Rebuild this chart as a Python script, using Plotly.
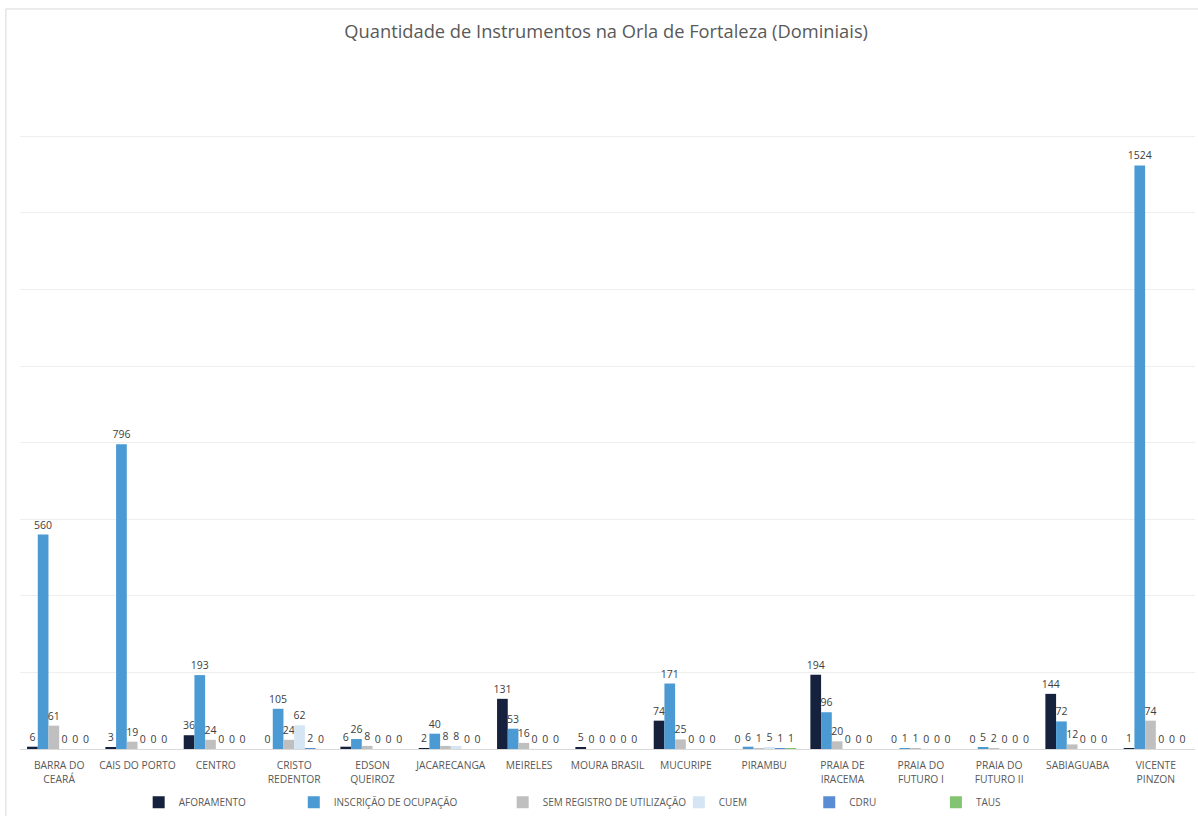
import plotly.graph_objects as go

categories = ["BARRA DO<br>CEARÁ", "CAIS DO PORTO", "CENTRO", "CRISTO<br>REDENTOR",
              "EDSON<br>QUEIROZ", "JACARECANGA", "MEIRELES", "MOURA BRASIL",
              "MUCURIPE", "PIRAMBU", "PRAIA DE<br>IRACEMA", "PRAIA DO<br>FUTURO I",
              "PRAIA DO<br>FUTURO II", "SABIAGUABA", "VICENTE<br>PINZON"]

aforamento   = [6, 3, 36, 0, 6, 2, 131, 5, 74, 0, 194, 0, 0, 144, 1]
inscricao    = [560, 796, 193, 105, 26, 40, 53, 0, 171, 6, 96, 1, 5, 72, 1524]
sem_registro = [61, 19, 24, 24, 8, 8, 16, 0, 25, 1, 20, 1, 2, 12, 74]
cuem         = [0, 0, 0, 62, 0, 8, 0, 0, 0, 5, 0, 0, 0, 0, 0]
cdru         = [0, 0, 0, 2, 0, 0, 0, 0, 0, 1, 0, 0, 0, 0, 0]
taus         = [0, 0, 0, 0, 0, 0, 0, 0, 0, 1, 0, 0, 0, 0, 0]

series_names = ["AFORAMENTO", "INSCRIÇÃO DE OCUPAÇÃO", "SEM REGISTRO DE UTILIZAÇÃO",
                "CUEM", "CDRU", "TAUS"]
series_values = [aforamento, inscricao, sem_registro, cuem, cdru, taus]
colors = ["#16223d", "#4b9ad4", "#bfbfbf", "#d5e5f4", "#5a8cd6", "#82c472"]

# legend x positions (paper fraction)
legend_x = [0.101, 0.233, 0.4108, 0.5607, 0.6717, 0.7795]

fig = go.Figure()
for i, (name, vals, col) in enumerate(zip(series_names, series_values, colors)):
    lg = "legend" if i == 0 else f"legend{i+1}"
    fig.add_trace(go.Bar(
        x=categories, y=vals, name=name, marker_color=col, marker_line_width=0,
        text=[str(v) for v in vals], textposition="outside", constraintext="none",
        textfont=dict(family="Open Sans", size=10.5, color="#404040"),
        cliponaxis=False, legend=lg,
    ))

layout_legends = {}
for i, lx in enumerate(legend_x):
    key = "legend" if i == 0 else f"legend{i+1}"
    layout_legends[key] = dict(
        x=lx, y=-0.077, xanchor="left", yanchor="middle", orientation="h",
        font=dict(family="Open Sans", size=10, color="#595959"),
        bgcolor="rgba(0,0,0,0)", itemwidth=30, itemclick=False,
    )

fig.update_layout(
    width=1198, height=816,
    margin=dict(l=20, r=3, t=59, b=67, autoexpand=False),
    paper_bgcolor="white", plot_bgcolor="white",
    title=dict(text="Quantidade de Instrumentos na Orla de Fortaleza (Dominiais)",
               x=0.506, xanchor="center", y=0.961, yanchor="middle",
               font=dict(family="Open Sans", size=18.3, color="#595959")),
    barmode="group", bargap=0.18, bargroupgap=0,
    xaxis=dict(showgrid=False, showline=True, linecolor="#d9d9d9", linewidth=1,
               ticks="outside", ticklen=7, tickcolor="rgba(0,0,0,0)", automargin=False,
               tickfont=dict(family="Open Sans", size=10.3, color="#595959"),
               fixedrange=True),
    yaxis=dict(range=[0, 1802], dtick=200, showgrid=True, gridcolor="#eeeeee",
               gridwidth=1, showticklabels=False, zeroline=False, showline=False,
               automargin=False, fixedrange=True),
    showlegend=True,
    shapes=[dict(type="rect", xref="paper", yref="paper",
                 x0=-0.012, x1=1.05, y0=-0.2, y1=1.0725,
                 line=dict(color="#d9d9d9", width=1), fillcolor="rgba(0,0,0,0)")],
    **layout_legends,
)

fig.write_html("out.html")
